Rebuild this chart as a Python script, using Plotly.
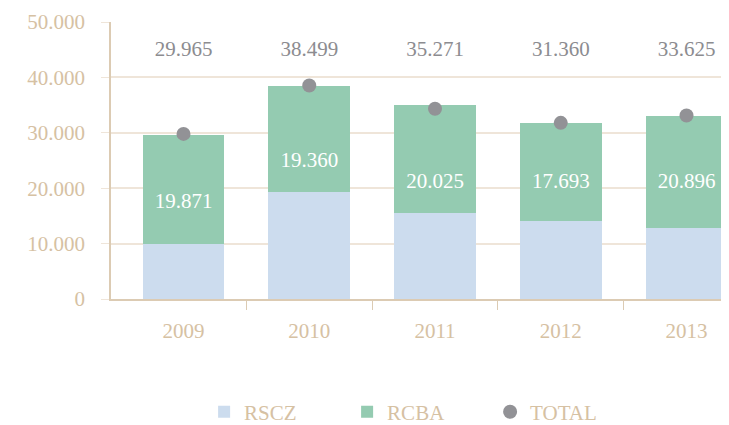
import plotly.graph_objects as go

years = ["2009", "2010", "2011", "2012", "2013"]
rscz = [9880, 19300, 15580, 14090, 12880]
rcba = [19750, 19200, 19480, 17710, 20240]
total = [29800, 38540, 34330, 31800, 33120]
rcba_labels = ["19.871", "19.360", "20.025", "17.693", "20.896"]
total_labels = ["29.965", "38.499", "35.271", "31.360", "33.625"]
y_ticks = [0, 10000, 20000, 30000, 40000, 50000]
y_ticktext = ["0", "10.000", "20.000", "30.000", "40.000", "50.000"]

# label placement (data units)
rcba_label_y = [17400, 24700, 21000, 21000, 21000]
total_label_y = 44800

FONT = "Liberation Serif"
TAN = "#d6c1a3"
GRID = "#efe5d9"
AXIS = "#dccbb3"
BLUE = "#ccdcee"
GREEN = "#94cbb1"
GREY = "#929296"
FS = 21

x = list(range(len(years)))

fig = go.Figure()
fig.add_trace(go.Bar(x=x, y=rscz, name="RSCZ", marker=dict(color=BLUE, line_width=0), width=0.652))
fig.add_trace(go.Bar(x=x, y=rcba, name="RCBA", marker=dict(color=GREEN, line_width=0), width=0.652))
fig.add_trace(go.Scatter(x=x, y=total, name="TOTAL", mode="markers",
                         marker=dict(color=GREY, size=14, line_width=0)))
fig.add_trace(go.Scatter(x=x, y=rcba_label_y, mode="text", text=rcba_labels, showlegend=False,
                         textfont=dict(family=FONT, size=FS, color="white"), hoverinfo="skip"))
fig.add_trace(go.Scatter(x=x, y=[total_label_y] * len(x), mode="text", text=total_labels, showlegend=False,
                         textfont=dict(family=FONT, size=FS, color="#8c8c90"), hoverinfo="skip"))

xr = [-0.5765, 4.338]
fig.update_layout(
    barmode="stack",
    width=721, height=417,
    margin=dict(l=103, r=0, t=14, b=126),
    plot_bgcolor="white", paper_bgcolor="white",
    font=dict(family=FONT, size=FS, color=TAN),
    xaxis=dict(range=xr, tickvals=[0.5, 1.5, 2.5, 3.5], ticktext=["", "", "", ""],
               ticks="outside", ticklen=9, tickcolor=AXIS, showgrid=False, zeroline=False,
               showline=True, linecolor=AXIS, linewidth=1.5),
    xaxis2=dict(range=xr, overlaying="x", side="bottom", anchor="y", tickvals=x, ticktext=years,
                ticks="", showgrid=False, zeroline=False, showline=False,
                tickfont=dict(family=FONT, size=FS, color=TAN), ticklabelstandoff=17),
    yaxis=dict(range=[0, 50000], tickvals=y_ticks, ticktext=y_ticktext, showgrid=True,
               gridcolor=GRID, gridwidth=1.5, ticks="outside", ticklen=8, tickcolor=GRID,
               showline=True, linecolor=AXIS, linewidth=1.5, zeroline=False,
               tickfont=dict(family=FONT, size=FS, color=TAN), ticklabelstandoff=12),
    legend=dict(orientation="h", xref="container", yref="container", x=0.272, xanchor="left",
                y=0.031, yanchor="middle", entrywidth=98, entrywidthmode="pixels",
                traceorder="normal", font=dict(family=FONT, size=FS, color=TAN)),
    showlegend=True,
)
# invisible trace to activate xaxis2 labels
fig.add_trace(go.Scatter(x=x, y=[None] * len(x), xaxis="x2", showlegend=False, hoverinfo="skip"))

fig.write_html("out.html")
